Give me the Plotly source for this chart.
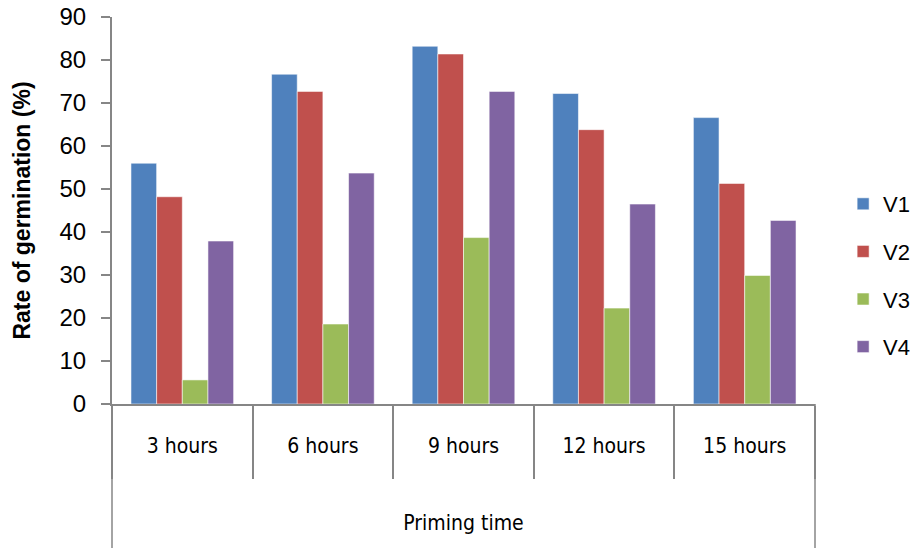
import plotly.graph_objects as go

# Germination rate (%) by priming time for four varieties
priming_times = ["3 hours", "6 hours", "9 hours", "12 hours", "15 hours"]
v1 = [56.0, 76.7, 83.2, 72.2, 66.6]
v2 = [48.2, 72.7, 81.4, 63.8, 51.3]
v3 = [5.6, 18.6, 38.7, 22.3, 29.9]
v4 = [37.9, 53.7, 72.7, 46.5, 42.7]
series_names = ["V1", "V2", "V3", "V4"]
series_values = [v1, v2, v3, v4]
y_ticks = [0, 10, 20, 30, 40, 50, 60, 70, 80, 90]

colors = ["#4F81BD", "#C0504D", "#9BBB59", "#8064A2"]
axis_gray = "#868686"
narrow = "Liberation Sans Narrow, DejaVu Sans Condensed, Arial Narrow, sans-serif"

fig = go.Figure()
for name, vals, col in zip(series_names, series_values, colors):
    fig.add_trace(go.Bar(
        x=priming_times, y=vals, name=name, legendgroup=name,
        marker=dict(color=col, line=dict(color="rgba(255,255,255,0.55)", width=1)),
    ))

fig.update_layout(
    width=911, height=548,
    margin=dict(l=112, r=96, t=17, b=144, autoexpand=False),
    paper_bgcolor="white", plot_bgcolor="white",
    barmode="group", bargap=0.27, bargroupgap=0,
    font=dict(family="Liberation Sans, Arial, sans-serif", color="#000000"),
    legend=dict(
        x=1.04, xanchor="left", y=0.332, yanchor="middle",
        font=dict(size=22, family="Liberation Sans, Arial, sans-serif"),
        tracegroupgap=16, itemclick=False,
    ),
    xaxis=dict(
        automargin=False,
        showline=True, linecolor=axis_gray, linewidth=2,
        ticks="outside", tickson="boundaries", ticklen=73,
        tickcolor=axis_gray, tickwidth=1.5,
        tickfont=dict(size=21, family=narrow),
        ticklabelstandoff=22,
        title=dict(text="Priming time", font=dict(size=21, family=narrow), standoff=58),
        showgrid=False, zeroline=False,
    ),
    yaxis=dict(
        automargin=False,
        range=[0, 90], tickvals=y_ticks,
        showline=True, linecolor=axis_gray, linewidth=2,
        ticks="outside", ticklen=9, tickcolor=axis_gray, tickwidth=1.5,
        tickfont=dict(size=24),
        ticklabelstandoff=10,
        title=dict(text="<b>Rate of germination (%)</b>", font=dict(size=23), standoff=22),
        showgrid=False, zeroline=False,
    ),
)

# outer frame lines of the category header extending to the bottom edge
for xp in (0, 1):
    fig.add_shape(type="line", xref="paper", yref="paper",
                  x0=xp, x1=xp, y0=0, y1=-0.4,
                  line=dict(color=axis_gray, width=1.5))

fig.write_html("out.html")
